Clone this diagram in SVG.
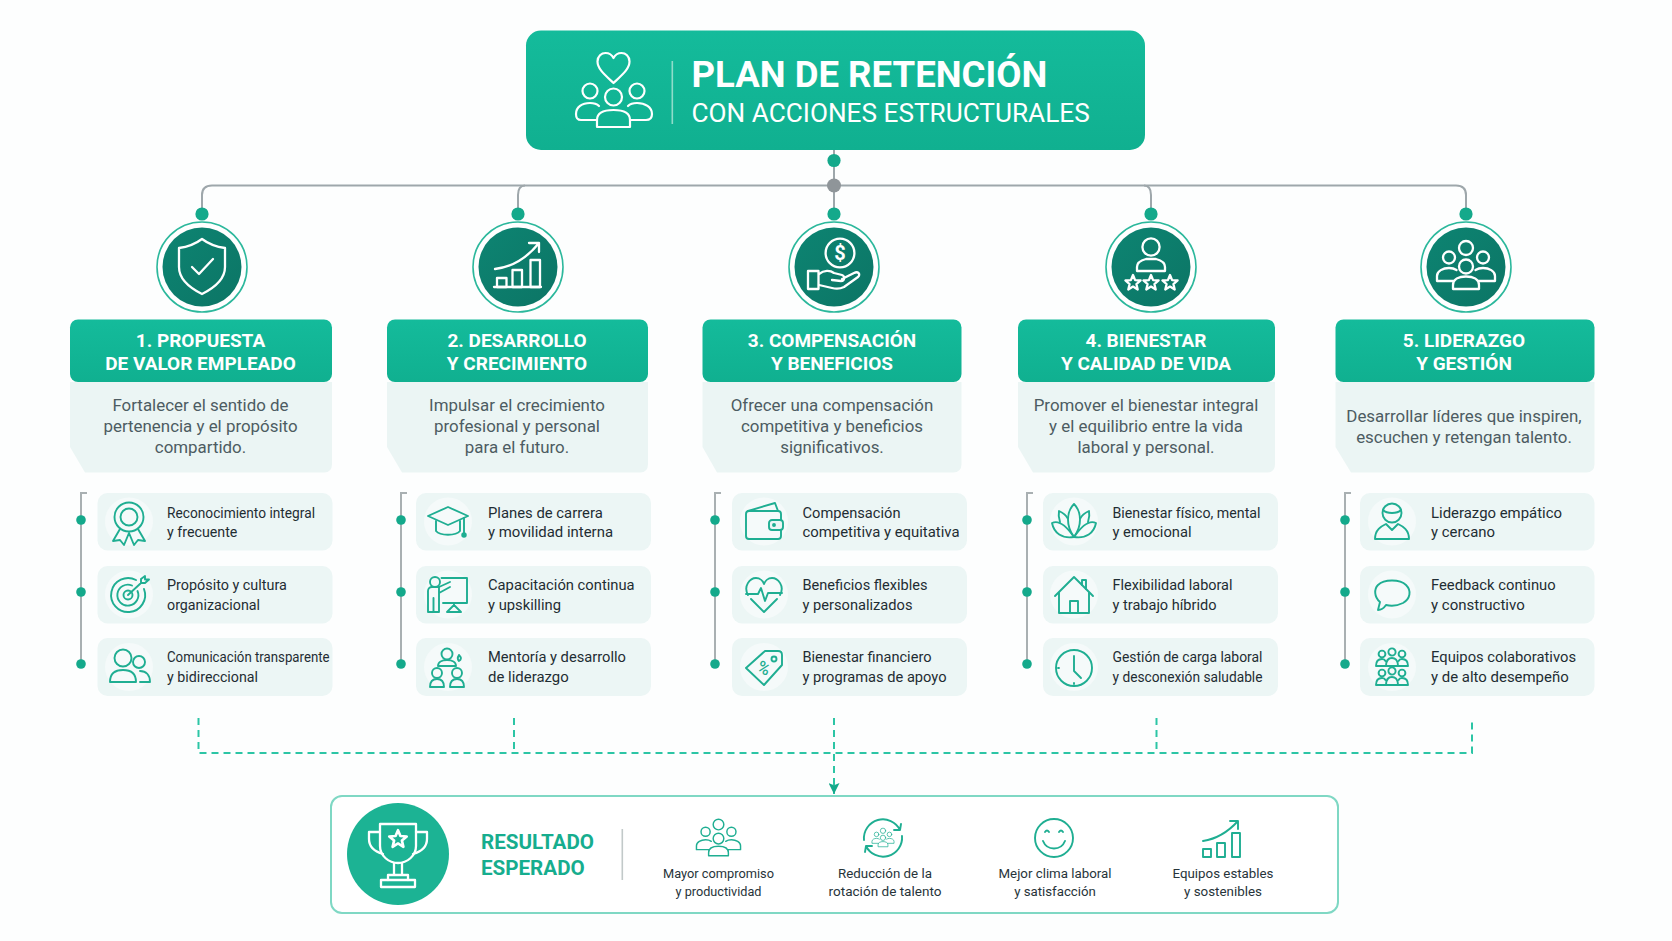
<svg xmlns="http://www.w3.org/2000/svg" xmlns:xlink="http://www.w3.org/1999/xlink" width="1672" height="941" viewBox="0 0 1672 941">
<style>
text{font-family:Roboto,"Liberation Sans",sans-serif}
.ttl{font-size:36.6px;font-weight:700;fill:#fff}
.sub{font-size:26.2px;fill:#fff}
.hd{font-size:19px;font-weight:700;fill:#fff;text-anchor:middle}
.desc{font-size:16.9px;fill:#4d5c62;text-anchor:middle}
.it{font-size:14.8px;fill:#1f2d33;lengthAdjust:spacingAndGlyphs}
.res{font-size:20.6px;font-weight:700;fill:#16ad8e}
.lab{font-size:13.6px;fill:#27343a;text-anchor:middle}
.hb{fill:url(#hg)}
.db{fill:#ebf5f4}
.cb{fill:#ecf6f5}
.halo{fill:#f5fafa}
.ring{fill:#fff;stroke:#2cb89c;stroke-width:1.6}
.disc{fill:url(#dg)}
.wi{fill:none;stroke:#fff;stroke-width:2.3;stroke-linejoin:round;stroke-linecap:round}
.gi{fill:none;stroke:#1fae92;stroke-width:1.9;stroke-linejoin:round;stroke-linecap:round}
.rail{fill:none;stroke:#a9b0b2;stroke-width:2}
.trunk{fill:none;stroke:#9ea7ab;stroke-width:2}
.dot{fill:#14a98b}
.gdot{fill:#8f9599}
.dash{fill:none;stroke:#2cc5a5;stroke-width:2;stroke-dasharray:7 5}
</style>
<defs>
<linearGradient id="hg" x1="0" y1="0" x2="0" y2="1"><stop offset="0" stop-color="#14bb9b"/><stop offset="1" stop-color="#10b090"/></linearGradient>
<linearGradient id="dg" x1="0" y1="0" x2="1" y2="1"><stop offset="0" stop-color="#0d8472"/><stop offset="1" stop-color="#0c7565"/></linearGradient>
<marker id="ah" markerWidth="11" markerHeight="11" refX="10" refY="5" orient="auto" markerUnits="userSpaceOnUse" viewBox="0 0 10 10"><path d="M0 0 L10 5 L0 10 L2 5 Z" fill="#14a98b"/></marker>
<g id="team">
<circle cx="0" cy="-19" r="7"/><circle cx="-17" cy="-9.5" r="6"/><circle cx="17" cy="-9.5" r="6"/><circle cx="0" cy="-0.5" r="7"/>
<path d="M-13 22 V18 C-13 12 -7 9.5 0 9.5 C7 9.5 13 12 13 18 V22 Z"/>
<path d="M-12 14 H-29 V9 C-29 4 -23 1 -17 1 C-14 1 -11 2 -9.5 3"/>
<path d="M12 14 H29 V9 C29 4 23 1 17 1 C14 1 11 2 9.5 3"/>
</g>
<g id="trio">
<circle cx="0" cy="-7" r="3.6"/><circle cx="-10" cy="-5" r="3.4"/><circle cx="10" cy="-5" r="3.4"/>
<path d="M-6 7 C-6 1 -3 -1 0 -1 C3 -1 6 1 6 7 Z"/><path d="M-16 7 C-16 2 -14 0 -10 0 C-8 0 -7 1 -6.5 2 M16 7 C16 2 14 0 10 0 C8 0 7 1 6.5 2 M-16 7 H16"/>
</g>
<path id="star" d="M0 -8 L2.1 -2.9 L7.6 -2.5 L3.4 1.1 L4.7 6.5 L0 3.6 L-4.7 6.5 L-3.4 1.1 L-7.6 -2.5 L-2.1 -2.9 Z"/>
</defs>
<rect width="1672" height="941" fill="#fdfefe"/>

<g id="connectors">
<path class="trunk" d="M834 150 V214"/>
<path class="trunk" d="M202 214 V195 Q202 185.5 212 185.5 H1456 Q1466 185.5 1466 195 V214"/>
<path class="trunk" d="M518 214 V195 Q518 185.5 525 185.5 M1151 214 V195 Q1151 185.5 1144 185.5"/>
<circle class="dot" cx="834" cy="160.5" r="6.6"/>
<circle class="gdot" cx="834" cy="185.5" r="7"/>
<circle class="dot" cx="202" cy="214" r="6.6"/><circle class="dot" cx="518" cy="214" r="6.6"/><circle class="dot" cx="834" cy="214" r="6.6"/><circle class="dot" cx="1151" cy="214" r="6.6"/><circle class="dot" cx="1466" cy="214" r="6.6"/>
<path class="rail" d="M87 493 H81 V664"/><path class="rail" d="M407 493 H401 V664"/><path class="rail" d="M721 493 H715 V664"/><path class="rail" d="M1033 493 H1027 V664"/><path class="rail" d="M1351 493 H1345 V664"/>
<g class="dot">
<circle cx="81" cy="520" r="4.8"/><circle cx="81" cy="592" r="4.8"/><circle cx="81" cy="664" r="4.8"/>
<circle cx="401" cy="520" r="4.8"/><circle cx="401" cy="592" r="4.8"/><circle cx="401" cy="664" r="4.8"/>
<circle cx="715" cy="520" r="4.8"/><circle cx="715" cy="592" r="4.8"/><circle cx="715" cy="664" r="4.8"/>
<circle cx="1027" cy="520" r="4.8"/><circle cx="1027" cy="592" r="4.8"/><circle cx="1027" cy="664" r="4.8"/>
<circle cx="1345" cy="520" r="4.8"/><circle cx="1345" cy="592" r="4.8"/><circle cx="1345" cy="664" r="4.8"/>
</g>
<path class="dash" d="M198.5 718 V753 H1472 V718"/>
<path class="dash" d="M514 718 V753 M1156.5 718 V753"/>
<path class="dash" d="M834 718 V794" marker-end="url(#ah)"/>
</g>

<g id="root">
<rect x="526" y="30.5" width="619" height="119.5" rx="15" class="hb"/>
<g fill="none" stroke="#fff" stroke-width="2.2" stroke-linejoin="round" stroke-linecap="round">
<path d="M613.5 83 C605 75 597.5 69 597.5 61.5 C597.5 56 601.5 53 605.5 53 C609 53 612 55 613.5 58 C615 55 618 53 621.5 53 C625.5 53 629.5 56 629.5 61.5 C629.5 69 622 75 613.5 83 Z"/>
<circle cx="613.5" cy="97" r="8.5"/><circle cx="590" cy="91" r="7.5"/><circle cx="637" cy="91" r="7.5"/>
<path d="M597 127 V120 C597 113 604 110 613.5 110 C623 110 630 113 630 120 V127 Z"/>
<path d="M597 120 H581 C577 120 576 118 576 114 C576 107 582 103 590 103 C594 103 597 104 599 106"/>
<path d="M630 120 H646 C650 120 652 118 652 114 C652 107 645 103 637 103 C633 103 630 104 628 106"/>
</g>
<rect x="671.5" y="61" width="1.6" height="63" fill="#8fdcca"/>
<text class="ttl" x="691.5" y="86.5">PLAN DE RETENCIÓN</text>
<text class="sub" x="691.5" y="122">CON ACCIONES ESTRUCTURALES</text>
</g>

<g id="pillar-1">
<circle class="ring" cx="202" cy="267" r="45"/><circle class="disc" cx="202" cy="267" r="39.5"/>
<g class="wi" transform="translate(202 267)"><path d="M0 -28 C8 -22 15 -20 23 -19 V0 C23 13 12 21 0 27 C-12 21 -23 13 -23 0 V-19 C-15 -20 -8 -22 0 -28 Z"/><path d="M-10 0 L-3 7 L11 -8"/></g>
<path class="db" d="M70 382 H332 V464 Q332 472.5 324 472.5 H85 L70 447 Z"/>
<rect class="hb" x="70" y="319.5" width="262" height="62.5" rx="8"/>
<text class="hd" x="200.5" y="346.5">1. PROPUESTA</text><text class="hd" x="200.5" y="370">DE VALOR EMPLEADO</text>
<text class="desc" x="200.5" y="410.5">Fortalecer el sentido de</text><text class="desc" x="200.5" y="432">pertenencia y el propósito</text><text class="desc" x="200.5" y="453">compartido.</text>
</g>
<g id="pillar-2">
<circle class="ring" cx="518" cy="267" r="45"/><circle class="disc" cx="518" cy="267" r="39.5"/>
<g class="wi" transform="translate(518 267)"><path d="M-24 20 H23"/><rect x="-21" y="11" width="9.5" height="9"/><rect x="-5.5" y="3" width="9.5" height="17"/><rect x="12.5" y="-7" width="9.5" height="27"/><path d="M-23 2 C-6 0 9 -9 21 -24 M11 -24 H21 V-15"/></g>
<path class="db" d="M387 382 H648 V464 Q648 472.5 640 472.5 H402 L387 447 Z"/>
<rect class="hb" x="387" y="319.5" width="261" height="62.5" rx="8"/>
<text class="hd" x="517" y="346.5">2. DESARROLLO</text><text class="hd" x="517" y="370">Y CRECIMIENTO</text>
<text class="desc" x="517" y="410.5">Impulsar el crecimiento</text><text class="desc" x="517" y="432">profesional y personal</text><text class="desc" x="517" y="453">para el futuro.</text>
</g>
<g id="pillar-3">
<circle class="ring" cx="834" cy="267" r="45"/><circle class="disc" cx="834" cy="267" r="39.5"/>
<g class="wi" transform="translate(834 267)"><circle cx="6" cy="-14" r="14.4"/><path d="M-26 4 H-15.5 V22 H-26 Z"/><path d="M-15 7 C-10 3 -4 3 0 6 L8 8 C11 9 11 14 7 14 L-2 13 M8 12 L20 6 C24 4 27 7 24 10 L10 20 C6 22 2 22 -2 21 L-15 18"/></g>
<text x="840" y="259.5" font-size="20" font-weight="700" fill="#fff" text-anchor="middle">$</text>
<path class="db" d="M702.5 382 H961.5 V464 Q961.5 472.5 953 472.5 H717 L702.5 447 Z"/>
<rect class="hb" x="702.5" y="319.5" width="259" height="62.5" rx="8"/>
<text class="hd" x="832" y="346.5">3. COMPENSACIÓN</text><text class="hd" x="832" y="370">Y BENEFICIOS</text>
<text class="desc" x="832" y="410.5">Ofrecer una compensación</text><text class="desc" x="832" y="432">competitiva y beneficios</text><text class="desc" x="832" y="453">significativos.</text>
</g>
<g id="pillar-4">
<circle class="ring" cx="1151" cy="267" r="45"/><circle class="disc" cx="1151" cy="267" r="39.5"/>
<g class="wi" transform="translate(1151 267)"><circle cx="0" cy="-20" r="8.6"/><path d="M-14 4 V0 C-14 -5 -9 -7 -5 -8 H5 C9 -7 14 -5 14 0 V4 Z"/><use xlink:href="#star" href="#star" x="-18" y="16"/><use xlink:href="#star" href="#star" x="0" y="16"/><use xlink:href="#star" href="#star" x="19" y="16"/></g>
<path class="db" d="M1018 382 H1275 V464 Q1275 472.5 1267 472.5 H1033 L1018 447 Z"/>
<rect class="hb" x="1018" y="319.5" width="257" height="62.5" rx="8"/>
<text class="hd" x="1146" y="346.5">4. BIENESTAR</text><text class="hd" x="1146" y="370">Y CALIDAD DE VIDA</text>
<text class="desc" x="1146" y="410.5">Promover el bienestar integral</text><text class="desc" x="1146" y="432">y el equilibrio entre la vida</text><text class="desc" x="1146" y="453">laboral y personal.</text>
</g>
<g id="pillar-5">
<circle class="ring" cx="1466" cy="267" r="45"/><circle class="disc" cx="1466" cy="267" r="39.5"/>
<use class="wi" xlink:href="#team" href="#team" x="1466" y="267"/>
<path class="db" d="M1335.5 382 H1594.5 V464 Q1594.5 472.5 1586 472.5 H1351 L1335.5 447 Z"/>
<rect class="hb" x="1335.5" y="319.5" width="259" height="62.5" rx="8"/>
<text class="hd" x="1464" y="346.5">5. LIDERAZGO</text><text class="hd" x="1464" y="370">Y GESTIÓN</text>
<text class="desc" x="1464" y="421.5">Desarrollar líderes que inspiren,</text><text class="desc" x="1464" y="443">escuchen y retengan talento.</text>
</g>

<g id="item-1-1"><rect class="cb" x="97.5" y="493" width="235" height="57.5" rx="10"/><circle class="halo" cx="129" cy="521.5" r="24"/>
<g class="gi" transform="translate(129 521)"><circle cx="0" cy="-4" r="14.5"/><circle cx="0" cy="-4" r="8.5"/><path d="M-9 8 L-16 20 L-9 19 L-5 24 L0 12 L5 24 L9 19 L16 20 L9 8"/></g>
<text class="it" x="167" y="517.5" textLength="148" lengthAdjust="spacingAndGlyphs">Reconocimiento integral</text><text class="it" x="167" y="537" textLength="70.4" lengthAdjust="spacingAndGlyphs">y frecuente</text></g>
<g id="item-1-2"><rect class="cb" x="97.5" y="566" width="235" height="57.5" rx="10"/><circle class="halo" cx="129" cy="594.5" r="24"/>
<g class="gi" transform="translate(128 595)"><path d="M8 -15 A17 17 0 1 0 16 -6"/><path d="M4 -9.5 A10.5 10.5 0 1 0 9.5 -4"/><circle r="4.5"/><path d="M0 0 L13 -12 M13 -12 V-16 L17 -19 V-15.5 H21 L17 -12 H13"/></g>
<text class="it" x="167" y="590" textLength="119.8" lengthAdjust="spacingAndGlyphs">Propósito y cultura</text><text class="it" x="167" y="609.5" textLength="93" lengthAdjust="spacingAndGlyphs">organizacional</text></g>
<g id="item-1-3"><rect class="cb" x="97.5" y="638" width="235" height="58" rx="10"/><circle class="halo" cx="129" cy="667" r="24"/>
<g class="gi" transform="translate(129 667)"><circle cx="-6" cy="-9" r="8.5"/><path d="M-19 15 C-19 6 -13 3 -6 3 C1 3 7 6 7 15 Z"/><circle cx="10" cy="-5" r="6"/><path d="M11 4 C17 4 21 8 21 15 H11"/></g>
<text class="it" x="167" y="661.5" textLength="162.6" lengthAdjust="spacingAndGlyphs">Comunicación transparente</text><text class="it" x="167" y="681.5" textLength="91" lengthAdjust="spacingAndGlyphs">y bidireccional</text></g>

<g id="item-2-1"><rect class="cb" x="416" y="493" width="235" height="57.5" rx="10"/><circle class="halo" cx="448" cy="521.5" r="24"/>
<g class="gi" transform="translate(448 521)"><path d="M-20 -5 L0 -14 L20 -5 L0 4 Z"/><path d="M-12 0 V10 C-8 15 8 15 12 10 V0"/><path d="M16 -3 V12"/><circle cx="16" cy="14" r="1.8" fill="#1fae92"/></g>
<text class="it" x="488" y="517.5" textLength="114.8" lengthAdjust="spacingAndGlyphs">Planes de carrera</text><text class="it" x="488" y="537" textLength="125" lengthAdjust="spacingAndGlyphs">y movilidad interna</text></g>
<g id="item-2-2"><rect class="cb" x="416" y="566" width="235" height="57.5" rx="10"/><circle class="halo" cx="448" cy="594.5" r="24"/>
<g class="gi" transform="translate(448 594)"><path d="M-6.5 -16 H19 V9 H-5"/><path d="M6 9 V12 M-1 18 L6 11 L13 18 Z"/><circle cx="-13" cy="-12" r="5"/><path d="M-20 18 V-3 C-20 -6 -18 -7 -16 -7 H-9 L2 -12 M-9 -1 L2 -7 M-9 -7 V18 H-20 M-14.5 4 V18"/></g>
<text class="it" x="488" y="590" textLength="146.6" lengthAdjust="spacingAndGlyphs">Capacitación continua</text><text class="it" x="488" y="610" textLength="73" lengthAdjust="spacingAndGlyphs">y upskilling</text></g>
<g id="item-2-3"><rect class="cb" x="416" y="638" width="235" height="58" rx="10"/><circle class="halo" cx="448" cy="667" r="24"/>
<g class="gi" transform="translate(448 667)"><circle cx="-1" cy="-13" r="5.5"/><path d="M-10 -1 C-10 -5 -6 -7 -1 -7 C4 -7 8 -5 8 -1 Z"/><path d="M11 -12 C9 -9 10 -7 11 -6 C13 -7 14 -9 11 -12 Z"/><circle cx="-11" cy="6" r="5"/><path d="M-18 20 C-18 14 -15 12 -11 12 C-7 12 -4 14 -4 20 Z"/><circle cx="9" cy="6" r="5"/><path d="M2 20 C2 14 5 12 9 12 C13 12 16 14 16 20 Z"/></g>
<text class="it" x="488" y="661.5" textLength="138" lengthAdjust="spacingAndGlyphs">Mentoría y desarrollo</text><text class="it" x="488" y="681.5" textLength="80.7" lengthAdjust="spacingAndGlyphs">de liderazgo</text></g>

<g id="item-3-1"><rect class="cb" x="732" y="493" width="235" height="57.5" rx="10"/><circle class="halo" cx="764" cy="521.5" r="24"/>
<g class="gi" transform="translate(764 521)"><rect x="-18" y="-10" width="35" height="28" rx="3"/><path d="M-16 -10 L11 -18 L14 -10"/><rect x="5" y="-1" width="14" height="10" rx="3" fill="#ecf6f5"/><circle cx="10" cy="4" r="1"/></g>
<text class="it" x="802.5" y="517.5" textLength="98" lengthAdjust="spacingAndGlyphs">Compensación</text><text class="it" x="802.5" y="537" textLength="157" lengthAdjust="spacingAndGlyphs">competitiva y equitativa</text></g>
<g id="item-3-2"><rect class="cb" x="732" y="566" width="235" height="57.5" rx="10"/><circle class="halo" cx="764" cy="594.5" r="24"/>
<g class="gi" transform="translate(764 594)"><path d="M-16 1 C-21 -8 -14 -16 -8 -16 C-4 -16 -1 -13 0 -10 C1 -13 4 -16 8 -16 C14 -16 21 -8 16 1"/><path d="M-18 0 H-6 L-3 -6 L1 7 L4 -1 H18"/><path d="M-13 5 L0 18 L13 5"/></g>
<text class="it" x="802.5" y="590" textLength="125" lengthAdjust="spacingAndGlyphs">Beneficios flexibles</text><text class="it" x="802.5" y="610" textLength="110" lengthAdjust="spacingAndGlyphs">y personalizados</text></g>
<g id="item-3-3"><rect class="cb" x="732" y="638" width="235" height="58" rx="10"/><circle class="halo" cx="764" cy="667" r="24"/>
<g class="gi" transform="translate(764 667)"><path d="M-18 1 L1 -16 H14 Q18 -16 18 -12 V-2 L0 18 Z"/><circle cx="10" cy="-8" r="2.5"/></g>
<text x="764" y="674" font-size="17" font-weight="500" fill="#1fae92" text-anchor="middle" transform="rotate(25 764 668)">%</text>
<text class="it" x="802.5" y="661.5" textLength="129" lengthAdjust="spacingAndGlyphs">Bienestar financiero</text><text class="it" x="802.5" y="681.5" textLength="144" lengthAdjust="spacingAndGlyphs">y programas de apoyo</text></g>

<g id="item-4-1"><rect class="cb" x="1043" y="493" width="235" height="57.5" rx="10"/><circle class="halo" cx="1074" cy="521.5" r="24"/>
<g class="gi" transform="translate(1074 521)"><path d="M0 -17 C8 -9 8 5 0 16 C-8 5 -8 -9 0 -17 Z"/><path d="M-6.5 -3 C-8 -6 -11 -8 -15 -10 C-16 -5 -15 -2 -14 1"/><path d="M6.5 -3 C8 -6 11 -8 15 -10 C16 -5 15 -2 14 1"/><path d="M-22 2 C-16 -1 -9 3 0 16 C-12 18 -20 12 -22 2 Z"/><path d="M22 2 C16 -1 9 3 0 16 C12 18 20 12 22 2 Z"/></g>
<text class="it" x="1112.5" y="517.5" textLength="148" lengthAdjust="spacingAndGlyphs">Bienestar físico, mental</text><text class="it" x="1112.5" y="537" textLength="79" lengthAdjust="spacingAndGlyphs">y emocional</text></g>
<g id="item-4-2"><rect class="cb" x="1043" y="566" width="235" height="57.5" rx="10"/><circle class="halo" cx="1074" cy="594.5" r="24"/>
<g class="gi" transform="translate(1074 595)"><path d="M-19 1 L0 -18 L19 1"/><path d="M-15 -2 V18 H15 V-2"/><path d="M-4 18 V6 H4 V18"/><path d="M8 -10 V-15 H12 V-6"/></g>
<text class="it" x="1112.5" y="590" textLength="120" lengthAdjust="spacingAndGlyphs">Flexibilidad laboral</text><text class="it" x="1112.5" y="610" textLength="104" lengthAdjust="spacingAndGlyphs">y trabajo híbrido</text></g>
<g id="item-4-3"><rect class="cb" x="1043" y="638" width="235" height="58" rx="10"/><circle class="halo" cx="1074" cy="667" r="24"/>
<g class="gi" transform="translate(1074 668)"><circle r="18"/><path d="M0 -12 V3 L7 10"/><path d="M0 15 V16 M-15 0 H-16"/></g>
<text class="it" x="1112.5" y="662" textLength="150" lengthAdjust="spacingAndGlyphs">Gestión de carga laboral</text><text class="it" x="1112.5" y="682" textLength="150" lengthAdjust="spacingAndGlyphs">y desconexión saludable</text></g>

<g id="item-5-1"><rect class="cb" x="1360" y="493" width="234.5" height="57.5" rx="10"/><circle class="halo" cx="1392" cy="521.5" r="24"/>
<g class="gi" transform="translate(1392 521)"><circle cx="0" cy="-8" r="9.5"/><path d="M-9 -11 C-5 -7 5 -7 9 -11"/><path d="M-17 18 C-17 8 -10 5 -6 3 L0 9 L6 3 C10 5 17 8 17 18 Z"/></g>
<text class="it" x="1431" y="517.5" textLength="131" lengthAdjust="spacingAndGlyphs">Liderazgo empático</text><text class="it" x="1431" y="537" textLength="64" lengthAdjust="spacingAndGlyphs">y cercano</text></g>
<g id="item-5-2"><rect class="cb" x="1360" y="566" width="234.5" height="57.5" rx="10"/><circle class="halo" cx="1392" cy="594.5" r="24"/>
<g class="gi" transform="translate(1392 594)"><path d="M-14 16 L-12 8 C-18 3 -18 -5 -14 -9 C-8 -15 8 -15 14 -9 C20 -3 18 5 11 9 C5 12 -2 12 -6 11 C-8 14 -11 16 -14 16 Z"/></g>
<text class="it" x="1431" y="590" textLength="124.7" lengthAdjust="spacingAndGlyphs">Feedback continuo</text><text class="it" x="1431" y="610" textLength="93.7" lengthAdjust="spacingAndGlyphs">y constructivo</text></g>
<g id="item-5-3"><rect class="cb" x="1360" y="638" width="234.5" height="58" rx="10"/><circle class="halo" cx="1392" cy="667" r="24"/>
<g class="gi" transform="translate(1392 667)" stroke-width="1.7"><use xlink:href="#trio" href="#trio" y="-8"/><use xlink:href="#trio" href="#trio" y="11"/></g>
<text class="it" x="1431" y="661.5" textLength="145" lengthAdjust="spacingAndGlyphs">Equipos colaborativos</text><text class="it" x="1431" y="681.5" textLength="137.7" lengthAdjust="spacingAndGlyphs">y de alto desempeño</text></g>

<g id="result">
<rect x="331" y="796" width="1007" height="117" rx="11" fill="#fff" stroke="#7fd8c4" stroke-width="2"/>
<circle cx="398" cy="854" r="51" fill="#1cb394"/>
<g class="wi" transform="translate(398 854)"><path d="M-18 -30 H18 V-8 C18 2 9 9 0 9 C-9 9 -18 2 -18 -8 Z"/><path d="M-18 -22 H-29 V-15 C-29 -6 -22 -2 -15 0"/><path d="M18 -22 H29 V-15 C29 -6 22 -2 15 0"/><path d="M-4 9 V21 M4 9 V21 M-10 26 V21 H10 V26"/><rect x="-17" y="26" width="34" height="7"/><use xlink:href="#star" href="#star" y="-11" transform="translate(0 -2) scale(1.15)"/></g>
<text class="res" x="481" y="849">RESULTADO</text><text class="res" x="481" y="875">ESPERADO</text>
<rect x="621.5" y="829" width="1.6" height="51" fill="#c2c9c9"/>
<g class="gi"><use xlink:href="#team" href="#team" transform="translate(718.5 839) scale(.76)"/></g>
<text class="lab" x="718.5" y="877.5" textLength="111" lengthAdjust="spacingAndGlyphs">Mayor compromiso</text><text class="lab" x="718.5" y="895.5" textLength="86" lengthAdjust="spacingAndGlyphs">y productividad</text>
<g class="gi" transform="translate(883 838)"><path d="M-19 2 A19 19 0 0 1 17 -8 M17 -8 L18 -14 M17 -8 L11 -8"/><path d="M19 -2 A19 19 0 0 1 -17 8 M-17 8 L-18 14 M-17 8 L-11 8"/><use xlink:href="#team" href="#team" transform="scale(.38)"/></g>
<text class="lab" x="885" y="877.5" textLength="94" lengthAdjust="spacingAndGlyphs">Reducción de la</text><text class="lab" x="885" y="895.5" textLength="113" lengthAdjust="spacingAndGlyphs">rotación de talento</text>
<g class="gi" transform="translate(1054 838)"><circle r="19"/><path d="M-9 -6 Q-7 -9 -5 -6 M5 -6 Q7 -9 9 -6"/><path d="M-11 3 C-7 13 7 13 11 3"/></g>
<text class="lab" x="1055" y="877.5" textLength="113" lengthAdjust="spacingAndGlyphs">Mejor clima laboral</text><text class="lab" x="1055" y="895.5" textLength="81.7" lengthAdjust="spacingAndGlyphs">y satisfacción</text>
<g class="gi"><path d="M1203 849 H1211 V857 H1203 Z M1217 843 H1225 V857 H1217 Z M1232 833 H1240 V857 H1232 Z"/><path d="M1203 841 C1216 839 1228 832 1238 821 M1230 821 H1238 V829"/></g>
<text class="lab" x="1223" y="877.5" textLength="101" lengthAdjust="spacingAndGlyphs">Equipos estables</text><text class="lab" x="1223" y="895.5" textLength="78" lengthAdjust="spacingAndGlyphs">y sostenibles</text>
</g>
</svg>
